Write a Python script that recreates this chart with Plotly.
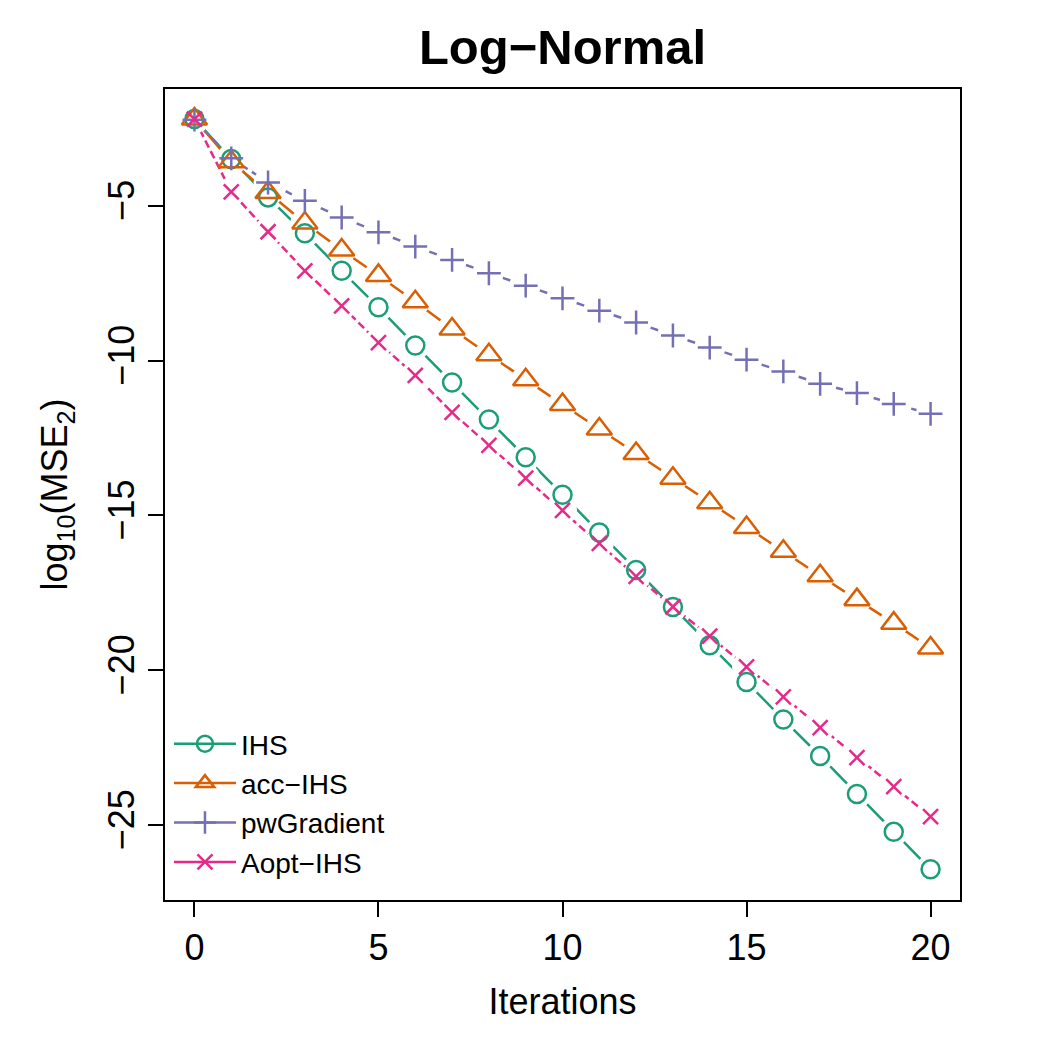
import plotly.graph_objects as go

iterations = list(range(21))

ihs = [-2.20, -3.49, -4.73, -5.89, -7.10, -8.28, -9.51, -10.71, -11.90, -13.12,
       -14.33, -15.55, -16.76, -17.96, -19.19, -20.38, -21.59, -22.77, -24.00, -25.22, -26.43]
acc_ihs = [-2.20, -3.58, -4.57, -5.56, -6.43, -7.25, -8.10, -8.98, -9.81, -10.62,
           -11.42, -12.21, -13.00, -13.80, -14.59, -15.39, -16.16, -16.95, -17.72, -18.48, -19.28]
pw_gradient = [-2.22, -3.47, -4.25, -4.84, -5.38, -5.86, -6.32, -6.75, -7.18, -7.58,
               -7.99, -8.39, -8.77, -9.19, -9.58, -9.97, -10.35, -10.75, -11.05, -11.40, -11.72]
aopt_ihs = [-2.20, -4.55, -5.84, -7.10, -8.23, -9.42, -10.48, -11.67, -12.74, -13.80,
            -14.84, -15.90, -16.97, -17.95, -18.90, -19.89, -20.86, -21.85, -22.82, -23.76, -24.73]

series_names = ["IHS", "acc\u2212IHS", "pwGradient", "Aopt\u2212IHS"]
series_values = [ihs, acc_ihs, pw_gradient, aopt_ihs]
colors = ["#1B9E77", "#D95F02", "#7570B3", "#E7298A"]
symbols = ["circle-open", "triangle-up-open", "cross-thin-open", "x-thin-open"]
sizes = [18, 22, 17, 15]
dashes = ["solid", "solid", "8px,5px", "8px,4px"]

x_ticks = [0, 5, 10, 15, 20]
y_ticks = [-5, -10, -15, -20, -25]

FONT = "Liberation Sans, Arial, Helvetica, sans-serif"
LW = 2.5

fig = go.Figure()

# legend entries
for name, col, sym, sz in zip(series_names, colors, symbols, sizes):
    fig.add_trace(go.Scatter(
        x=[None], y=[None], mode="lines+markers", name=name,
        line=dict(color=col, width=LW),
        marker=dict(symbol=sym, size=sz, color=col, line=dict(color=col, width=LW)),
        showlegend=True))

# lines with gaps around points (type="b" style)
for vals, col, dash in zip(series_values, colors, dashes):
    fig.add_trace(go.Scatter(
        x=iterations, y=vals, mode="lines",
        line=dict(color=col, width=LW, dash=dash),
        showlegend=False, hoverinfo="skip"))
    fig.add_trace(go.Scatter(
        x=iterations, y=vals, mode="markers",
        marker=dict(symbol="circle", size=29, color="white", line=dict(width=0)),
        showlegend=False, hoverinfo="skip"))

# point symbols
for vals, col, sym, sz, name in zip(series_values, colors, symbols, sizes, series_names):
    fig.add_trace(go.Scatter(
        x=iterations, y=vals, mode="markers", name=name,
        marker=dict(symbol=sym, size=sz, color=col, line=dict(color=col, width=LW)),
        showlegend=False))

fig.update_layout(
    width=1050, height=1050,
    margin=dict(l=165, r=90, t=89, b=150),
    paper_bgcolor="white", plot_bgcolor="white",
    font=dict(family=FONT, color="black"),
    title=dict(text="<b>Log\u2212Normal</b>", x=0.5, xref="paper", xanchor="center",
               y=1 - 47 / 1050, yref="container", yanchor="middle",
               font=dict(size=49, family=FONT, color="black")),
    showlegend=True,
    legend=dict(x=0.005, y=0.016, xanchor="left", yanchor="bottom",
                bgcolor="rgba(0,0,0,0)", borderwidth=0,
                font=dict(size=28, family=FONT, color="black"),
                tracegroupgap=0, itemwidth=62),
)

fig.update_xaxes(
    range=[-0.8, 20.8], tickvals=x_ticks, ticktext=[str(v) for v in x_ticks],
    showline=True, mirror=True, linecolor="black", linewidth=2,
    ticks="outside", ticklen=15, tickwidth=2, tickcolor="black",
    showgrid=False, zeroline=False,
    tickfont=dict(size=36, family=FONT, color="black"),
    title=dict(text="Iterations", font=dict(size=36, family=FONT, color="black"), standoff=22),
)
fig.update_yaxes(
    range=[-27.42, -1.23], tickvals=y_ticks, ticktext=["\u2212" + str(-v) for v in y_ticks],
    tickangle=-90,
    showline=True, mirror=True, linecolor="black", linewidth=2,
    ticks="outside", ticklen=15, tickwidth=2, tickcolor="black",
    showgrid=False, zeroline=False,
    tickfont=dict(size=36, family=FONT, color="black"),
    title=dict(text="log<sub>10</sub>(MSE<sub>2</sub>)", font=dict(size=36, family=FONT, color="black"), standoff=22),
)

fig.write_html("out.html")
